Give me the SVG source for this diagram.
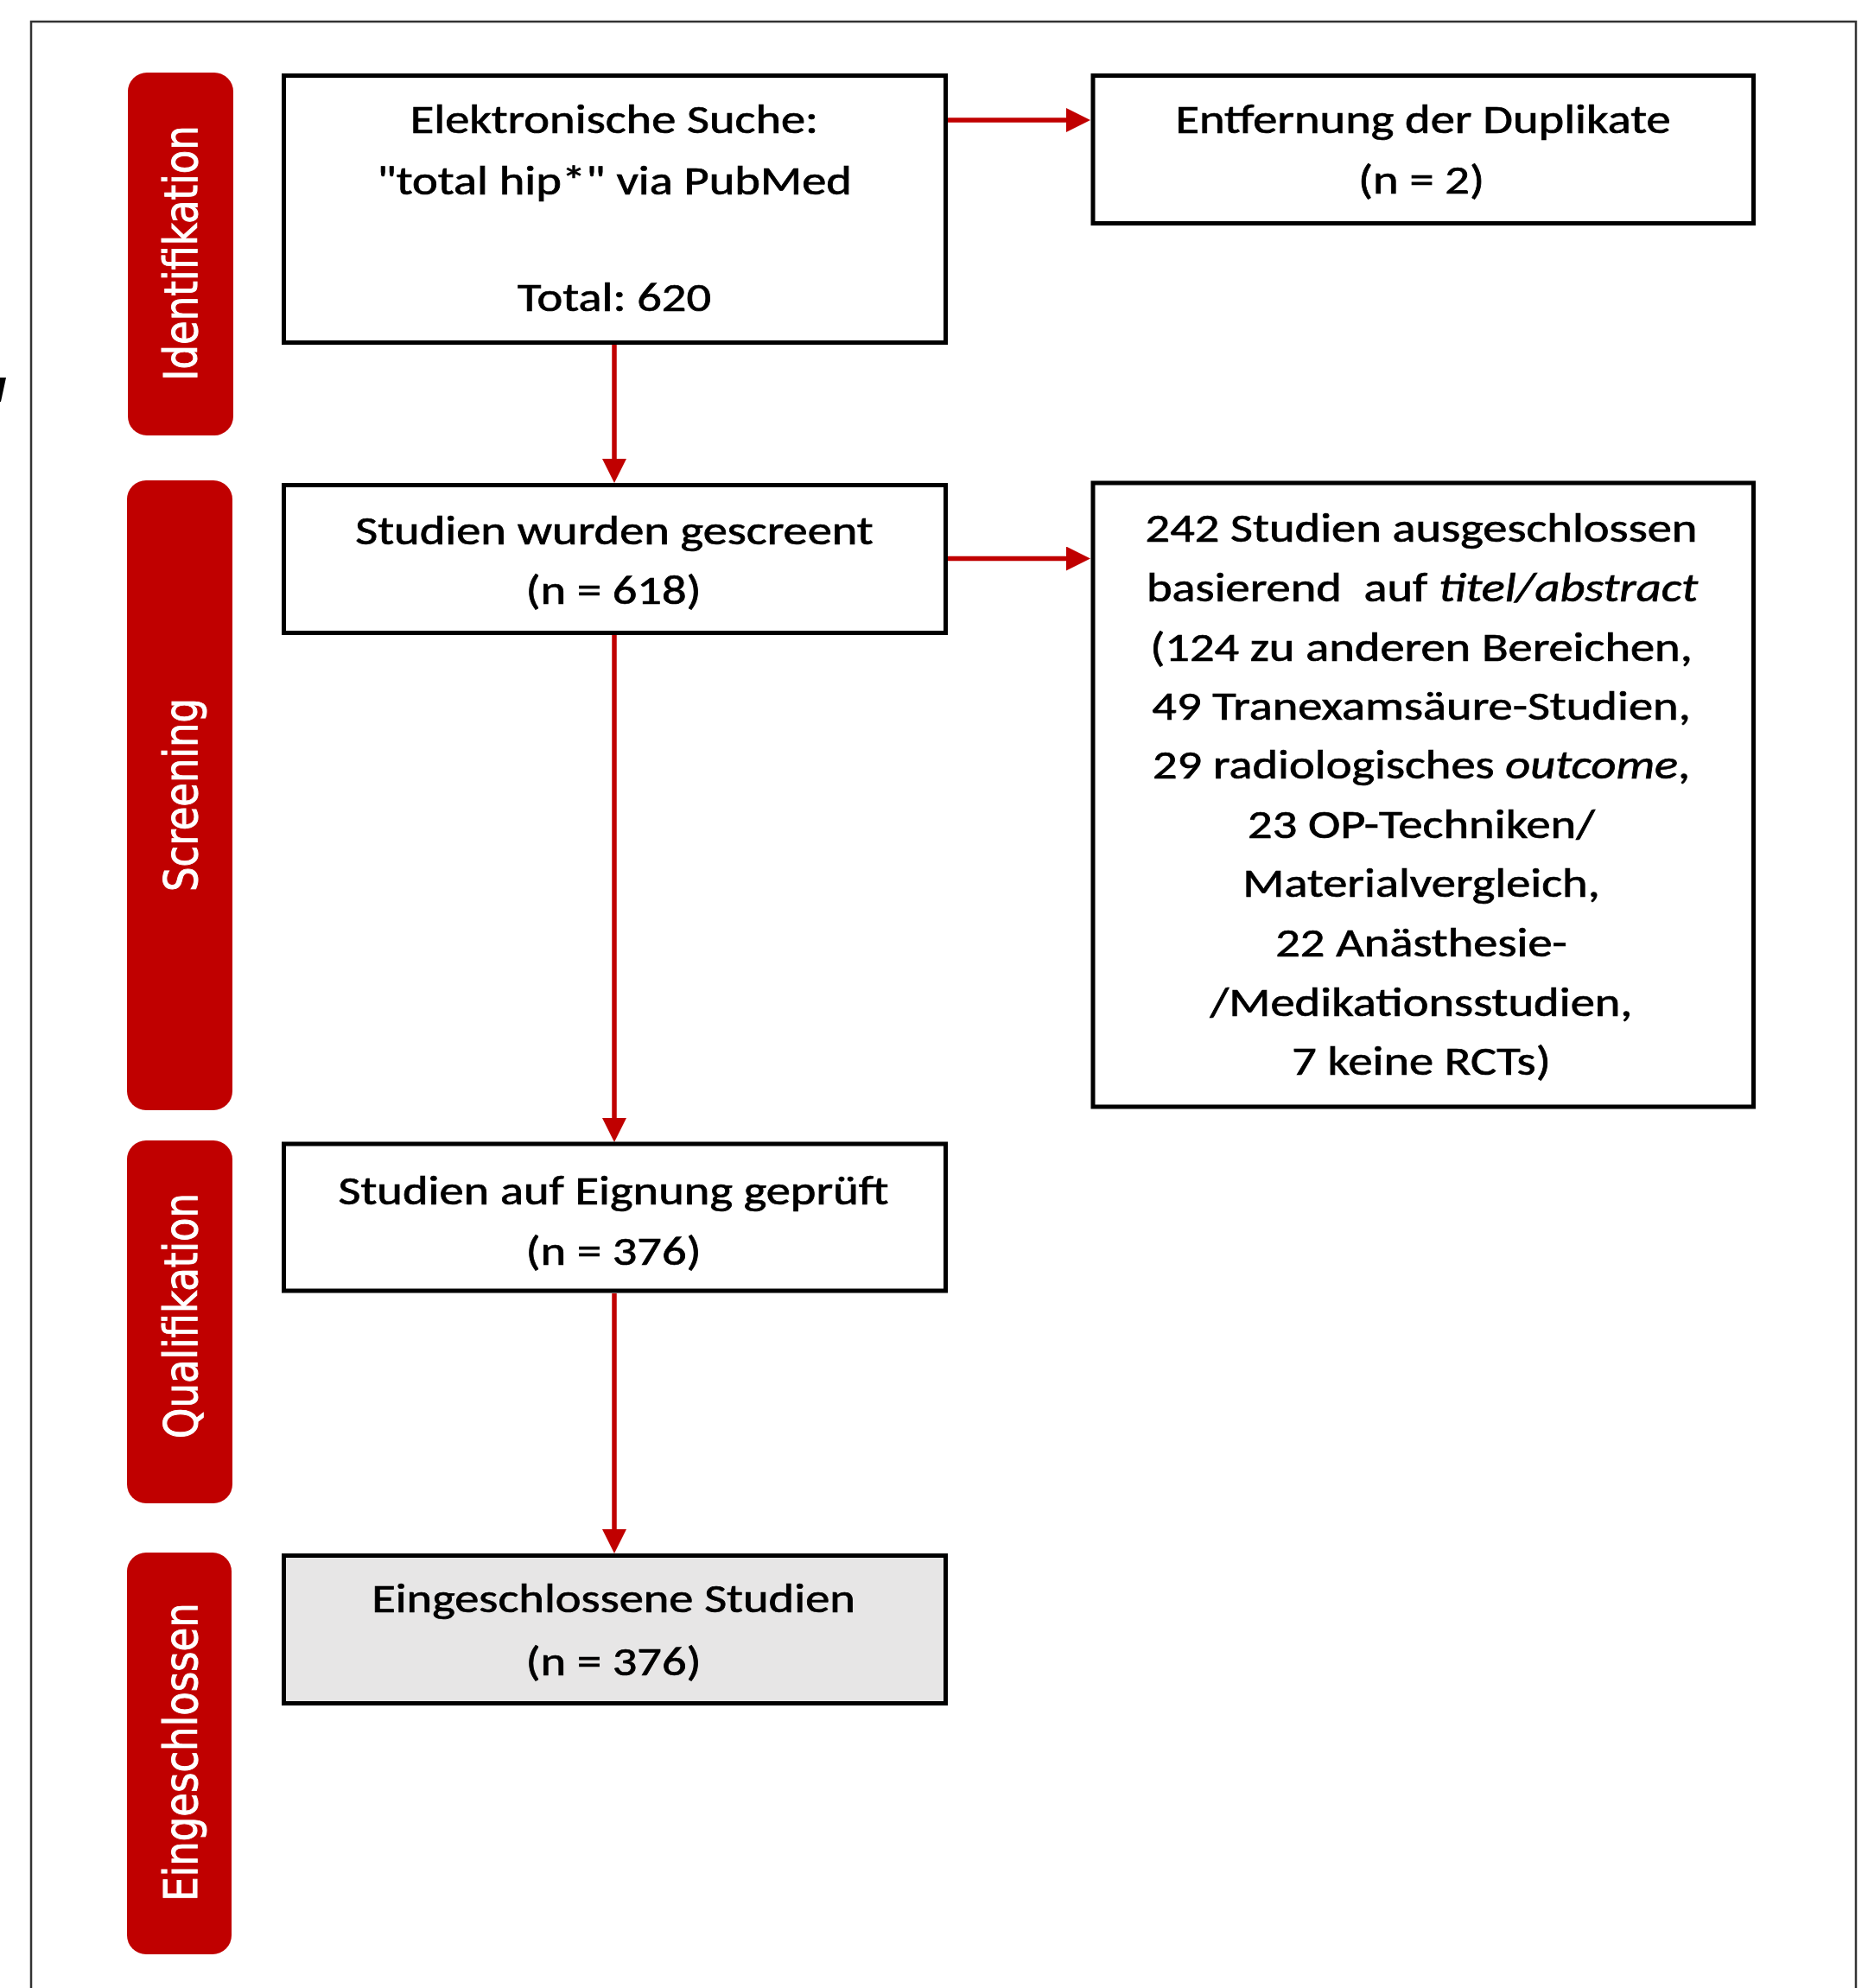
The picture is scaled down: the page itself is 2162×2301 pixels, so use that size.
<svg xmlns="http://www.w3.org/2000/svg" width="2162" height="2301" viewBox="0 0 2162 2301">
<style>
.box{fill:#ffffff;stroke:#000000;stroke-width:5}
.box.final{fill:#E7E6E6}
.pill{fill:#C00000}
.lbl{font-family:Carlito,Lato,"Liberation Sans",sans-serif;font-size:47px;fill:#000000;stroke:#000000;stroke-width:0.7;text-anchor:middle}
.phase{font-family:"DejaVu Sans",Verdana,sans-serif;font-size:45px;fill:#ffffff;stroke:#ffffff;stroke-width:0.8;text-anchor:middle}
.con{fill:none;stroke:#C00000;stroke-width:5.5}
.it{font-style:italic}
</style>
<defs>
<marker id="ah" markerUnits="userSpaceOnUse" markerWidth="28" markerHeight="28" viewBox="0 0 28 28" refX="2" refY="14" orient="auto">
<path d="M0,0 L28,14 L0,28 z" fill="#C00000"/>
</marker>
</defs>
<rect width="2162" height="2301" fill="#ffffff"/>
<path d="M36,2301 V25 H2148 V2301" fill="none" stroke="#333333" stroke-width="2.5"/>
<polygon points="0,437 7,437 1,465 0,465" fill="#000000"/>

<g id="phase-identifikation">
<rect class="pill" x="148" y="84" width="122" height="420" rx="22"/>
<text class="phase" transform="translate(228,293) scale(1.2,1) rotate(-90)">Identifikation</text>
</g>
<g id="phase-screening">
<rect class="pill" x="147" y="556" width="122" height="729" rx="22"/>
<text class="phase" transform="translate(228,920) scale(1.2,1) rotate(-90)">Screening</text>
</g>
<g id="phase-qualifikation">
<rect class="pill" x="147" y="1320" width="122" height="420" rx="22"/>
<text class="phase" transform="translate(228,1523) scale(1.2,1) rotate(-90)">Qualifikation</text>
</g>
<g id="phase-eingeschlossen">
<rect class="pill" x="147" y="1797" width="121" height="465" rx="22"/>
<text class="phase" transform="translate(228,2028) scale(1.2,1) rotate(-90)">Eingeschlossen</text>
</g>

<g id="connectors">
<path class="con" d="M1097,139 H1236" marker-end="url(#ah)"/>
<path class="con" d="M711,399 V533" marker-end="url(#ah)"/>
<path class="con" d="M1097,646.5 H1236" marker-end="url(#ah)"/>
<path class="con" d="M711,735 V1296" marker-end="url(#ah)"/>
<path class="con" d="M711,1497 V1772" marker-end="url(#ah)"/>
</g>

<g id="node-suche">
<rect class="box" x="328.5" y="87.5" width="766" height="309"/>
<text class="lbl" transform="translate(711,154) scale(1.2,1)">Elektronische Suche:</text>
<text class="lbl" transform="translate(711,225) scale(1.2,1)">"total hip*" via PubMed</text>
<text class="lbl" transform="translate(711,360) scale(1.2,1)">Total: 620</text>
</g>
<g id="node-duplikate">
<rect class="box" x="1265" y="87.5" width="764.5" height="171"/>
<text class="lbl" transform="translate(1647,154) scale(1.2,1)">Entfernung der Duplikate</text>
<text class="lbl" transform="translate(1645,224) scale(1.2,1)">(n = 2)</text>
</g>
<g id="node-gescreent">
<rect class="box" x="328.5" y="561.5" width="766" height="171"/>
<text class="lbl" transform="translate(711,630) scale(1.2,1)">Studien wurden gescreent</text>
<text class="lbl" transform="translate(710,699) scale(1.2,1)">(n = 618)</text>
</g>
<g id="node-ausgeschlossen">
<rect class="box" x="1265" y="559" width="764.5" height="722"/>
<text class="lbl" transform="translate(1645,627) scale(1.2,1)">242 Studien ausgeschlossen</text>
<text class="lbl" transform="translate(1646,696) scale(1.2,1)">basierend&#160; auf <tspan class="it">titel/abstract</tspan></text>
<text class="lbl" transform="translate(1645,765) scale(1.2,1)">(124 zu anderen Bereichen,</text>
<text class="lbl" transform="translate(1645,833) scale(1.2,1)">49 Tranexamsäure-Studien,</text>
<text class="lbl" transform="translate(1645,901) scale(1.2,1)">29 radiologisches <tspan class="it">outcome</tspan>,</text>
<text class="lbl" transform="translate(1645,970) scale(1.2,1)">23 OP-Techniken/</text>
<text class="lbl" transform="translate(1645,1038) scale(1.2,1)">Materialvergleich,</text>
<text class="lbl" transform="translate(1645,1107) scale(1.2,1)">22 Anästhesie-</text>
<text class="lbl" transform="translate(1645,1176) scale(1.2,1)">/Medikationsstudien,</text>
<text class="lbl" transform="translate(1645,1244) scale(1.2,1)">7 keine RCTs)</text>
</g>
<g id="node-eignung">
<rect class="box" x="328.5" y="1324" width="766" height="170"/>
<text class="lbl" transform="translate(710,1394) scale(1.2,1)">Studien auf Eignung geprüft</text>
<text class="lbl" transform="translate(710,1464) scale(1.2,1)">(n = 376)</text>
</g>
<g id="node-eingeschlossen">
<rect class="box final" x="328.5" y="1800.5" width="766" height="171"/>
<text class="lbl" transform="translate(710,1866) scale(1.2,1)">Eingeschlossene Studien</text>
<text class="lbl" transform="translate(710,1939) scale(1.2,1)">(n = 376)</text>
</g>
</svg>
